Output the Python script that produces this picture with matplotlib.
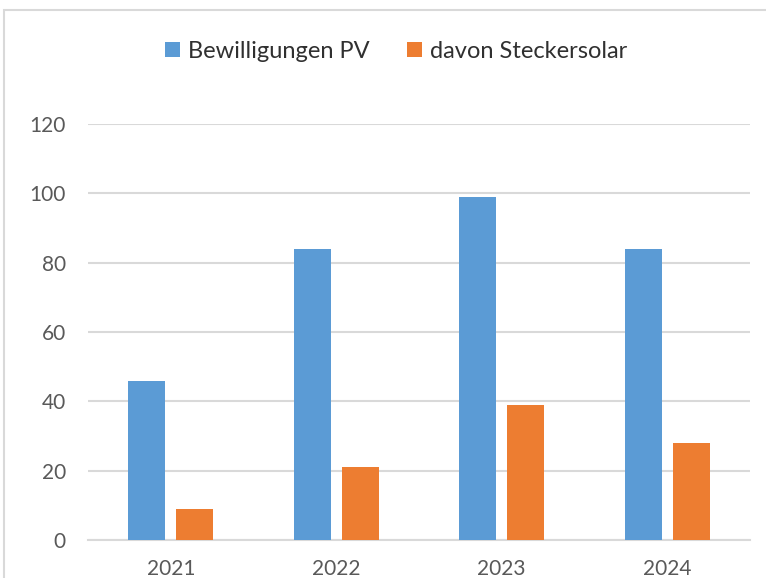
import matplotlib
matplotlib.use("Agg")
import matplotlib.pyplot as plt
import numpy as np
from matplotlib.patches import Rectangle

years = ["2021", "2022", "2023", "2024"]
bewilligungen = [46, 84, 99, 84]
stecker = [9, 21, 39, 28]
yticks = [0, 20, 40, 60, 80, 100, 120]

plt.rcParams['font.family'] = ['Lato', 'DejaVu Sans']

W, H = 766, 578
fig = plt.figure(figsize=(W/100, H/100), dpi=100)
ax = fig.add_axes([88/W, 1-540/H, (750-88)/W, (540-124)/H])

x = np.arange(len(years))
bw = 0.224
off = 0.145
ax.bar(x - off, bewilligungen, bw, color="#5B9BD5", label="Bewilligungen PV", zorder=3)
ax.bar(x + off, stecker, bw, color="#ED7D31", label="davon Steckersolar", zorder=3)

ax.set_xlim(-0.5, len(years)-0.5)
ax.set_ylim(0, 120)
ax.set_yticks(yticks)
ax.set_xticks(x)
ax.set_xticklabels(years)
ax.yaxis.grid(True, color="#d9d9d9", linewidth=1.5, zorder=0)
ax.tick_params(axis='both', length=0, colors="#595959", labelsize=15)
ax.tick_params(axis='y', pad=16)
ax.tick_params(axis='x', pad=14)
for s in ["top", "right", "left"]:
    ax.spines[s].set_visible(False)
ax.spines["bottom"].set_color("#d9d9d9")
ax.spines["bottom"].set_linewidth(1.5)

leg = fig.legend(loc="center", bbox_to_anchor=(396/W, 1-51/H), ncol=2, frameon=False,
                 fontsize=17, handlelength=0.62, handleheight=0.58, columnspacing=1.6,
                 handletextpad=0.33)
for t in leg.get_texts():
    t.set_color("#303030")

fig.patches.append(Rectangle((4/W, -0.05), 1.1, 1 - 10/H + 0.05, transform=fig.transFigure,
                             fill=False, edgecolor="#d9d9d9", linewidth=1.5))

fig.savefig("out.png", dpi=100)
